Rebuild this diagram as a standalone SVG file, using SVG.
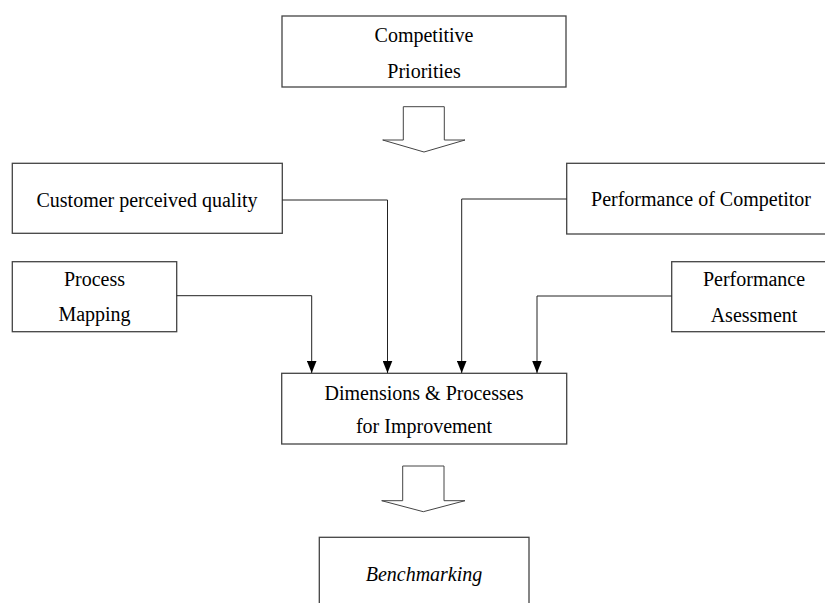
<svg xmlns="http://www.w3.org/2000/svg" width="825" height="603" viewBox="0 0 825 603">
<defs>
<style>
.box{fill:#fff;stroke:#444;stroke-width:1.3}
.t{font-family:"Liberation Serif","Times New Roman","DejaVu Serif",serif;font-size:20px;fill:#000;text-anchor:middle}
.conn{fill:none;stroke:#222;stroke-width:1}
.hollow{fill:#fff;stroke:#444;stroke-width:1}
</style>
<marker id="ah" markerUnits="userSpaceOnUse" markerWidth="12" markerHeight="10" viewBox="0 0 10 8" refX="10" refY="4" orient="auto">
<path d="M0,0 L10,4 L0,8 Z" fill="#000"/>
</marker>
</defs>
<rect width="825" height="603" fill="#fff"/>
<g id="competitive-priorities">
<rect class="box" x="282" y="16" width="284" height="71"/>
<text class="t" x="424" y="42">Competitive</text>
<text class="t" x="424" y="77.5">Priorities</text>
</g>
<g id="arrow-1">
<polygon class="hollow" points="403.3,106.7 444.3,106.7 444.3,140 465,140 424,152 382.7,140 403.3,140"/>
</g>
<g id="customer-perceived-quality">
<rect class="box" x="12.3" y="163.3" width="270" height="70"/>
<text class="t" x="147" y="206.5">Customer perceived quality</text>
</g>
<g id="performance-of-competitor">
<rect class="box" x="566.7" y="163.3" width="270" height="70.7"/>
<text class="t" x="701" y="206">Performance of Competitor</text>
</g>
<g id="process-mapping">
<rect class="box" x="12.3" y="261.7" width="164.4" height="70"/>
<text class="t" x="94.5" y="286">Process</text>
<text class="t" x="94.5" y="321">Mapping</text>
</g>
<g id="performance-assessment">
<rect class="box" x="671.7" y="261.7" width="165" height="70"/>
<text class="t" x="754" y="286">Performance</text>
<text class="t" x="754" y="321.5">Asessment</text>
</g>
<g id="dimensions-processes">
<rect class="box" x="281.7" y="373.3" width="285" height="70.7"/>
<text class="t" x="424" y="400">Dimensions &amp; Processes</text>
<text class="t" x="424" y="432.5">for Improvement</text>
</g>
<g id="arrow-2">
<polygon class="hollow" points="402.7,466 444,466 444,500.7 465,500.7 423.3,511.7 381.7,500.7 402.7,500.7"/>
</g>
<g id="benchmarking">
<rect class="box" x="319.3" y="537.3" width="209.7" height="80"/>
<text class="t" x="424" y="580.7" font-style="italic">Benchmarking</text>
</g>
<g id="connectors">
<path class="conn" d="M282.3,200 H387.5 V373" marker-end="url(#ah)"/>
<path class="conn" d="M176.7,295.7 H311.7 V373" marker-end="url(#ah)"/>
<path class="conn" d="M566.7,199 H461.7 V373" marker-end="url(#ah)"/>
<path class="conn" d="M671.7,296 H537 V373" marker-end="url(#ah)"/>
</g>
</svg>
